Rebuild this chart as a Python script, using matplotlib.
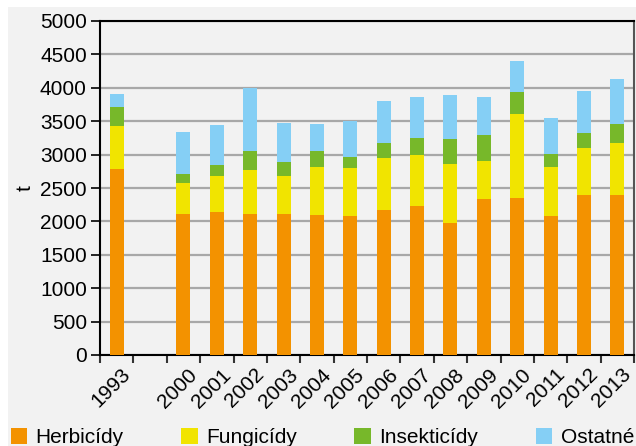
import numpy as np
import matplotlib
matplotlib.use("Agg")
import matplotlib.pyplot as plt
from matplotlib.patches import Rectangle, Patch
import matplotlib.transforms as mtransforms

plt.rcParams['font.family'] = ['Liberation Sans', 'DejaVu Sans']

# data (t), empty slot between 1993 and 2000
years = ["1993", "", "2000", "2001", "2002", "2003", "2004", "2005", "2006",
         "2007", "2008", "2009", "2010", "2011", "2012", "2013"]
herbicidy = [2785, 0, 2110, 2140, 2110, 2110, 2095, 2080, 2170,
             2230, 1975, 2335, 2350, 2080, 2395, 2395]
fungicidy = [645, 0, 465, 540, 660, 570, 720, 720, 780,
             765, 885, 570, 1260, 735, 705, 780]
insekticidy = [285, 0, 135, 165, 285, 210, 240, 165, 225,
               255, 375, 390, 330, 190, 225, 285]
ostatne = [195, 0, 630, 600, 945, 585, 405, 540, 630,
           615, 660, 570, 465, 545, 630, 675]

names = ["Herbicídy", "Fungicídy", "Insekticídy", "Ostatné"]
colors = ["#f39200", "#f1e400", "#77b82a", "#85cff5"]

fig = plt.figure(figsize=(6.36, 4.46), dpi=100)
fig.patches.append(Rectangle((8 / 636, 0), 1, 1 - 7 / 446, transform=fig.transFigure,
                             facecolor="#f2f2f2", edgecolor="none", zorder=-10))

ax = fig.add_axes([100 / 636, 91 / 446, 534 / 636, 334 / 446])
ax.set_facecolor("#f2f2f2")

x = np.arange(len(years))
bottom = np.zeros(len(years))
for vals, c in zip([herbicidy, fungicidy, insekticidy, ostatne], colors):
    ax.bar(x, vals, width=0.42, bottom=bottom, color=c, zorder=3)
    bottom += np.array(vals)

ax.set_xlim(-0.5, len(years) - 0.5)
ax.set_ylim(0, 5000)
ax.set_yticks(np.arange(0, 5001, 500))
ax.yaxis.grid(True, color="#a8a8a8", lw=1.6, zorder=0)
ax.tick_params(axis="y", length=6.5, width=1.2, labelsize=15, pad=3)

# ticks at slot borders, labels at slot centres
ax.set_xticks(np.arange(-0.5, len(years), 1.0))
ax.set_xticklabels([])
ax.tick_params(axis="x", which="major", length=6, width=1.5, color="#333333")
ax.set_xticks(x, minor=True)
ax.set_xticklabels(years, minor=True, rotation=45, ha="right", va="center",
                   rotation_mode="anchor", fontsize=15)
ax.tick_params(axis="x", which="minor", length=0, pad=12)
offset = mtransforms.ScaledTranslation(8 / 72, 0, fig.dpi_scale_trans)
for lab in ax.get_xticklabels(minor=True):
    lab.set_transform(lab.get_transform() + offset)

for s in ["left", "bottom", "top"]:
    ax.spines[s].set_color("black")
    ax.spines[s].set_linewidth(1.5)
ax.spines["right"].set_color("#555555")
ax.spines["right"].set_linewidth(1.5)

ax.set_ylabel("t", fontsize=15, labelpad=4)

handles = [Patch(facecolor=c, edgecolor="none") for c in colors]
fig.legend(handles, names, loc="lower left", bbox_to_anchor=(-8 / 636, -0.045), ncol=4,
           frameon=False, fontsize=15, handlelength=0.8, handleheight=0.8,
           handletextpad=0.4, columnspacing=2.75)

fig.savefig("out.png", dpi=100, facecolor="white")
